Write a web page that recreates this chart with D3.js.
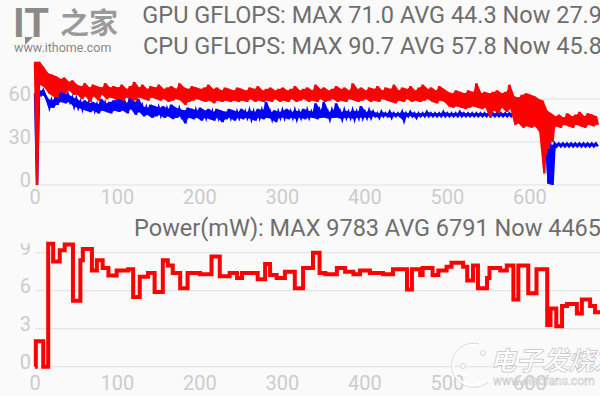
<!DOCTYPE html>
<html>
<head>
<meta charset="utf-8">
<script src="https://cdn.jsdelivr.net/npm/d3@7"></script>
<style>
  body { margin: 0; background: #fafafa; }
  svg { display: block; font-family: Roboto, "Noto Sans", sans-serif; }
</style>
</head>
<body>
<svg id="chart" width="600" height="396"></svg>
<script>
// seconds per bin; each bin holds the high / low edge of the noisy trace
const STEP = 5;

const cpuHi = [86, 86, 82, 78, 77, 76, 74, 75, 72, 73,
  70, 69, 71, 68, 70, 69, 68, 71, 68, 69,
  68, 70, 67, 69, 72, 68, 70, 67, 69, 68,
  70, 67, 68, 69, 67, 71, 68, 67, 69, 68,
  67, 68, 70, 67, 68, 66, 68, 67, 66, 68,
  67, 66, 68, 67, 69, 66, 67, 68, 66, 67,
  68, 66, 67, 69, 66, 67, 68, 66, 70, 67,
  68, 66, 67, 69, 67, 68, 66, 71, 67, 68,
  66, 68, 67, 69, 66, 68, 67, 70, 66, 68,
  67, 69, 66, 68, 70, 67, 68, 66, 69, 67,
  65, 64, 66, 65, 64, 66, 65, 71, 64, 65,
  64, 65, 66, 64, 65, 70, 62, 61, 63, 64,
  63, 62, 60, 59, 52, 50, 48, 49, 47, 50,
  48, 49, 51, 48, 50, 49, 48];
const cpuLo = [0, 70, 68, 64, 62, 61, 65, 64, 66, 63,
  63, 60, 62, 58, 62, 59, 63, 60, 61, 60,
  60, 59, 61, 60, 59, 61, 60, 59, 61, 60,
  59, 60, 58, 59, 60, 59, 56, 58, 59, 60,
  59, 58, 59, 57, 59, 58, 59, 58, 59, 58,
  59, 58, 60, 58, 59, 58, 59, 58, 60, 58,
  59, 58, 60, 58, 59, 60, 58, 59, 58, 60,
  58, 59, 60, 58, 59, 58, 60, 59, 58, 59,
  60, 58, 59, 58, 60, 59, 58, 57, 59, 58,
  60, 58, 59, 58, 59, 60, 58, 57, 59, 58,
  55, 54, 55, 54, 53, 54, 55, 54, 53, 54,
  47, 52, 50, 54, 51, 53, 42, 43, 40, 41,
  40, 41, 37, 8, 25, 30, 41, 40, 42, 41,
  40, 42, 41, 40, 42, 41, 42];

const gpuHi = [64, 66, 66, 60, 59, 62, 66, 64, 63, 61,
  60, 58, 59, 57, 58, 56, 60, 57, 58, 59,
  61, 63, 57, 62, 58, 60, 55, 54, 56, 55,
  54, 55, 53, 56, 54, 53, 52, 54, 53, 52,
  54, 52, 53, 51, 53, 52, 51, 53, 52, 51,
  53, 51, 52, 51, 53, 52, 58, 51, 52, 51,
  52, 53, 51, 52, 51, 53, 52, 51, 57, 52,
  58, 51, 52, 57, 51, 52, 51, 52, 51, 55,
  51, 52, 51, 50, 51, 50, 51, 50, 50, 51,
  50, 51, 50, 50, 50, 51, 50, 50, 50, 51,
  50, 50, 50, 51, 50, 50, 50, 50, 50, 50,
  50, 50, 50, 50, 50, 50, 50, 50, 50, 50,
  50, 50, 50, 50, 48, 28, 29, 29, 29, 29,
  29, 29, 29, 29, 29, 29, 29];
const gpuLo = [0, 63, 62, 54, 54, 56, 58, 57, 58, 55,
  54, 53, 52, 51, 52, 50, 52, 51, 50, 52,
  51, 52, 50, 53, 49, 51, 48, 49, 47, 48,
  49, 47, 48, 46, 47, 48, 43, 47, 46, 47,
  45, 47, 46, 45, 47, 44, 46, 47, 45, 47,
  46, 47, 46, 45, 47, 46, 47, 46, 44, 47,
  47, 46, 47, 46, 47, 46, 47, 47, 46, 47,
  47, 46, 47, 47, 46, 47, 47, 46, 47, 47,
  47, 47, 48, 47, 48, 48, 47, 48, 48, 45,
  48, 48, 47, 48, 48, 48, 48, 48, 48, 48,
  48, 48, 48, 48, 48, 48, 48, 48, 48, 48,
  48, 48, 48, 48, 48, 48, 48, 48, 48, 48,
  48, 48, 48, 48, 1, 0, 27, 27, 27, 27,
  27, 27, 27, 27, 27, 27, 27];

// power samples: time (s) where the reading changes, value in mW
const powerT = [0, 1, 10, 16, 22, 30, 36, 46, 55, 58,
  69, 75, 82, 89, 99, 113, 119, 127, 137, 145,
  155, 161, 167, 176, 185, 200, 214, 224, 236, 245,
  251, 270, 279, 285, 293, 303, 315, 325, 337, 345,
  352, 366, 376, 386, 394, 406, 422, 434, 451, 457,
  467, 470, 482, 489, 499, 505, 519, 524, 531, 537,
  548, 551, 564, 572, 580, 586, 598, 608, 621, 625,
  632, 639, 645, 657, 663, 673, 679, 685];
const powerMw = [0, 2000, 0, 9700, 8300, 9200, 9650, 5200, 8400, 9300,
  7600, 8400, 7800, 7200, 7600, 7700, 5500, 7100, 7400, 5900,
  8400, 8000, 7400, 6200, 7400, 7300, 8700, 7150, 7400, 7000,
  7400, 6900, 8100, 7250, 7000, 7500, 6200, 7800, 9000, 7400,
  7300, 7800, 7500, 7300, 7600, 7400, 7300, 7700, 6100, 7700,
  7250, 7800, 7250, 7600, 7900, 8200, 7900, 6800, 8000, 6200,
  7000, 7800, 7600, 8000, 5300, 8000, 5800, 7700, 3300, 4600,
  3200, 4800, 4950, 4200, 5300, 4800, 4300, 4300];

const timeTicks = [0, 100, 200, 300, 400, 500, 600];
const gflopsTicks = [0, 30, 60];
const powerTicks = [0, 3000, 6000, 9000];

const gpuTitle = "GPU GFLOPS: MAX 71.0 AVG 44.3 Now 27.9";
const cpuTitle = "CPU GFLOPS: MAX 90.7 AVG 57.8 Now 45.8";
const powerTitle = "Power(mW): MAX 9783 AVG 6791 Now 4465";

const svg = d3.select("#chart");
const W = 600;

const x = d3.scaleLinear().domain([0, 685]).range([35, W]);
const yTop = d3.scaleLinear().domain([0, 86]).range([185, 61.8]);
const yBot = d3.scaleLinear().domain([0, 9783]).range([366.7, 242.8]);

// hi/lo pairs -> zig-zag trace, the way a dense sample line looks
function envelope(hi, lo) {
  const pts = [];
  hi.forEach((h, i) => {
    pts.push([i * STEP, h]);
    pts.push([i * STEP + STEP / 2, lo[i]]);
  });
  return pts;
}

// ---- logo
const logo = svg.append("g").attr("fill", "#8a8a8a");
logo.append("text").attr("x", 13).attr("y", 37)
  .attr("font-size", 40).attr("font-weight", 700).attr("font-family", "Roboto")
  .text("IT");
logo.append("path").attr("d", "M25,37 L25,45 L33,37 Z");
logo.append("text").attr("x", 60).attr("y", 34)
  .attr("font-size", 29).attr("font-family", "Noto Sans CJK SC").attr("font-weight", 700)
  .attr("fill", "#9a9a9a").text("之家");
logo.append("text").attr("x", 14).attr("y", 52)
  .attr("font-size", 12.5).attr("fill", "#888").text("www.ithome.com");

// ---- titles
const titleStyle = sel => sel.attr("text-anchor", "end").attr("font-size", 23.5).attr("fill", "#6e6e6e");
svg.append("text").attr("x", 602).attr("y", 23).call(titleStyle).text(gpuTitle);
svg.append("text").attr("x", 602).attr("y", 54).call(titleStyle).text(cpuTitle);
svg.append("text").attr("x", 601).attr("y", 236).call(titleStyle).text(powerTitle);

// ---- grids + y labels
function panel(y, ticks, fmt, clipTop) {
  const g = svg.append("g");
  g.selectAll("line.grid").data(ticks).join("line")
    .attr("x1", 35).attr("x2", W)
    .attr("y1", d => y(d)).attr("y2", d => y(d))
    .attr("stroke", "#e0e0e0").attr("stroke-width", 1);
  const id = "clip" + Math.round(clipTop);
  svg.append("clipPath").attr("id", id).append("rect")
    .attr("x", 0).attr("y", clipTop).attr("width", 35).attr("height", 400);
  g.append("g").attr("clip-path", `url(#${id})`)
    .selectAll("text").data(ticks).join("text")
    .attr("x", 31).attr("y", d => y(d) + 2)
    .attr("text-anchor", "end").attr("font-size", 20).attr("fill", "#cccccc")
    .text(fmt);
}
panel(yTop, gflopsTicks, d => d, 60);
panel(yBot, powerTicks, d => d / 1000, 243.5);

// ---- x labels
function xLabels(yPos) {
  svg.append("g").selectAll("text").data(timeTicks).join("text")
    .attr("x", d => x(d)).attr("y", yPos)
    .attr("text-anchor", "middle").attr("font-size", 20).attr("fill", "#cccccc")
    .text(d => d);
}
xLabels(204);
xLabels(390);

// ---- GFLOPS traces: filled hi/lo band plus the jagged trace on top
const areaTop = d3.area().x(d => x(d.t)).y0(d => yTop(d.lo)).y1(d => yTop(d.hi));
const lineTop = d3.line().x(d => x(d[0])).y(d => yTop(d[1]));
function trace(hi, lo, color) {
  const bins = hi.map((h, i) => ({ t: i * STEP + STEP / 4, hi: h, lo: lo[i] }));
  svg.append("path").datum(bins).attr("d", areaTop).attr("fill", color);
  svg.append("path").datum(envelope(hi, lo))
    .attr("d", lineTop).attr("fill", "none")
    .attr("stroke", color).attr("stroke-width", 2.4);
}
trace(gpuHi, gpuLo, "#0000ff");
trace(cpuHi, cpuLo, "#ff0000");

// ---- power trace
const lineBot = d3.line().curve(d3.curveStepAfter)
  .x(d => x(d[0])).y(d => yBot(d[1]));
svg.append("path").datum(d3.zip(powerT, powerMw))
  .attr("d", lineBot).attr("fill", "none")
  .attr("stroke", "#ff0000").attr("stroke-width", 4);

// ---- watermark
const wm = svg.append("g").attr("fill", "#fff").attr("stroke", "#c4c4c4").attr("stroke-width", 0.7);
wm.append("path").attr("fill", "none").attr("stroke", "#fff").attr("stroke-width", 2.5)
  .attr("d", "M478,346 A20,20 0 1,0 486,380");
wm.append("path").attr("fill", "none").attr("stroke", "#d2d2d2").attr("stroke-width", 0.8)
  .attr("d", "M479,344 A22,22 0 1,0 488,382");
wm.append("circle").attr("cx", 463).attr("cy", 366).attr("r", 2.5);
wm.append("circle").attr("cx", 483).attr("cy", 353).attr("r", 2.5);
wm.append("text").attr("x", 490).attr("y", 370)
  .attr("font-size", 26).attr("font-family", "Noto Sans CJK SC").attr("font-weight", 700)
  .attr("font-style", "italic").text("电子发烧友");
wm.append("text").attr("x", 493).attr("y", 385)
  .attr("font-size", 12).attr("stroke-width", 0.5).text("www.elecfans.com");
</script>
</body>
</html>
